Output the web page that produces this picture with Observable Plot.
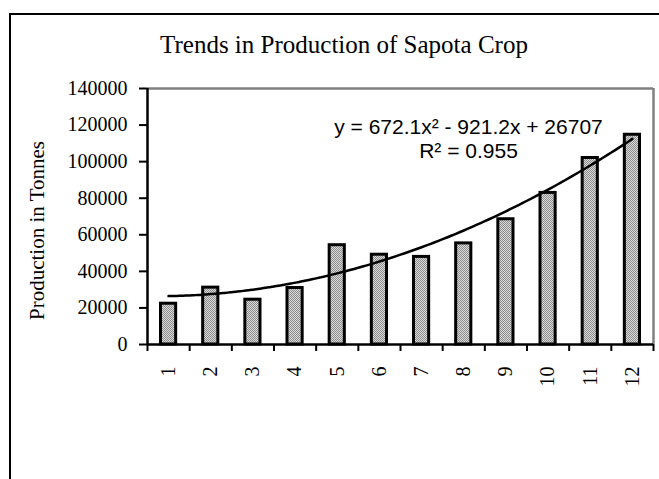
<!DOCTYPE html>
<html>
<head>
<meta charset="utf-8">
<script src="https://cdn.jsdelivr.net/npm/d3@7"></script>
<script src="https://cdn.jsdelivr.net/npm/@observablehq/plot@0.6"></script>
<style>
  html, body { margin: 0; padding: 0; background: white; }
  #wrap { position: relative; width: 659px; height: 479px; overflow: hidden; background: white; }
  #border { position: absolute; left: 9px; top: 13px; width: 800px; height: 600px; border: 2px solid black; }
  #title { position: absolute; left: 144px; width: 400px; top: 32px; text-align: center;
           font-family: "Liberation Serif", serif; font-size: 25px; line-height: 25px; color: black; }
  #chart { position: absolute; left: 0; top: 0; }
</style>
</head>
<body>
<div id="wrap">
  <div id="border"></div>
  <div id="title"></div>
  <div id="chart"></div>
</div>
<script>
const titleText = "Trends in Production of Sapota Crop";
const yLabel = "Production in Tonnes";
const years = [1, 2, 3, 4, 5, 6, 7, 8, 9, 10, 11, 12];
const production = [22300, 31100, 24500, 30900, 54300, 49100, 47900, 55300, 68500, 82900, 102000, 114700];
const yTicks = [0, 20000, 40000, 60000, 80000, 100000, 120000, 140000];
const trendCoefficients = [672.1, -921.2, 26707]; // a x^2 + b x + c, as printed on the chart
const equationText = "y = 672.1x² - 921.2x + 26707";
const rSquaredText = "R² = 0.955";

document.getElementById("title").textContent = titleText;

const data = years.map((x, i) => ({x, value: production[i]}));
const boundaries = [years[0] - 0.5, ...years.map(x => x + 0.5)];
const [a, b, c] = trendCoefficients;
const trend = d3.range(years[0], years[years.length - 1] + 0.001, 0.1).map(x => ({x, y: a * x * x + b * x + c}));

const plot = Plot.plot({
  width: 659,
  height: 479,
  marginLeft: 147,
  marginRight: 6,
  marginTop: 88,
  marginBottom: 135,
  style: {background: "none", fontFamily: "Liberation Serif", fontSize: "20px", color: "black", overflow: "visible"},
  x: {type: "linear", domain: [0.5, 12.5]},
  y: {domain: [0, 140000]},
  marks: [
    Plot.ruleY([140000], {stroke: "#808080", strokeWidth: 2.5}),
    Plot.ruleX([12.5], {stroke: "#808080", strokeWidth: 2.5}),
    Plot.rectY(data, {x1: d => d.x - 0.5, x2: d => d.x + 0.5, y: "value", fill: "url(#dots)",
      stroke: "black", strokeWidth: 3, insetLeft: 13.5, insetRight: 13.5}),
    Plot.line(trend, {x: "x", y: "y", stroke: "black", strokeWidth: 2.5, curve: "natural"}),
    Plot.ruleX([0.5], {stroke: "black", strokeWidth: 2.5}),
    Plot.ruleY([0], {stroke: "black", strokeWidth: 2.5}),
    Plot.axisY({ticks: yTicks, tickFormat: d3.format("d"), tickSize: 8, tickPadding: 12,
      fontSize: 20, strokeWidth: 2, label: null}),
    Plot.axisX({ticks: boundaries, tickFormat: () => "", tickSize: 7, strokeWidth: 2, label: null}),
    Plot.axisX({ticks: years, tickFormat: d3.format("d"), tickSize: 0, tickPadding: 22,
      tickRotate: -90, fontSize: 20, label: null}),
    Plot.text([equationText], {text: d => d, frameAnchor: "top", dx: 68, dy: 45, lineAnchor: "bottom",
      textAnchor: "middle", fontFamily: "Liberation Sans", fontSize: 21, fill: "black"}),
    Plot.text([rSquaredText], {text: d => d, frameAnchor: "top", dx: 68, dy: 69, lineAnchor: "bottom",
      textAnchor: "middle", fontFamily: "Liberation Sans", fontSize: 21, fill: "black"}),
    Plot.text([yLabel], {text: d => d, frameAnchor: "left", rotate: -90, dx: -110.5, dy: 14,
      textAnchor: "middle", fontFamily: "Liberation Serif", fontSize: 21, fill: "black"})
  ]
});

const defs = d3.select(plot).insert("defs", ":first-child");
const pat = defs.append("pattern").attr("id", "dots").attr("width", 2).attr("height", 2)
  .attr("patternUnits", "userSpaceOnUse");
pat.append("rect").attr("width", 2).attr("height", 2).attr("fill", "#dcdcdc");
pat.append("rect").attr("width", 1).attr("height", 1).attr("fill", "#8a8a8a");
pat.append("rect").attr("x", 1).attr("y", 1).attr("width", 1).attr("height", 1).attr("fill", "#8a8a8a");

document.getElementById("chart").appendChild(plot);
</script>
</body>
</html>
